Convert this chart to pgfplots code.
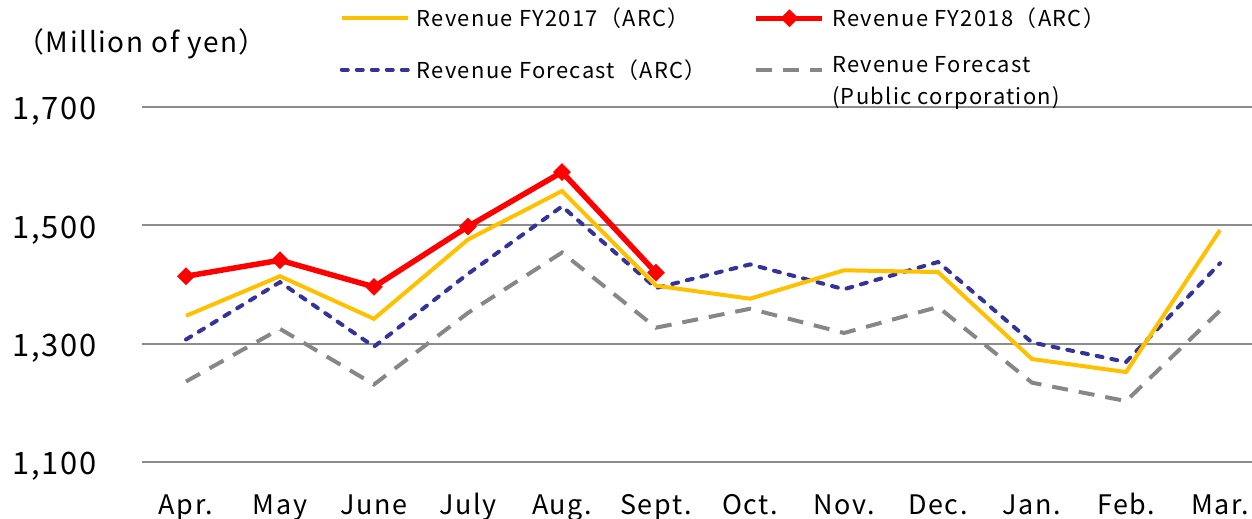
\documentclass[border=0pt]{standalone}
\usepackage{pgfplots}
\pgfplotsset{compat=1.18}
\usepackage{fontspec}
\setmainfont{Noto Sans CJK JP}[LetterSpace=6]
\definecolor{cYel}{HTML}{FFC000}
\definecolor{cRed}{HTML}{FF0000}
\definecolor{cNavy}{HTML}{333399}
\definecolor{cGray}{HTML}{878787}
\definecolor{cGrid}{HTML}{8C8C8C}
\begin{document}
\begin{tikzpicture}
\begin{axis}[name=ax,
  scale only axis, width=1110bp, height=355bp,
  xmin=-0.468, xmax=11.34, ymin=1100, ymax=1700,
  ytick={1100,1300,1500,1700},
  xtick={0,...,11},
  xticklabels={Apr.,May,June,July,Aug.,Sept.,Oct.,Nov.,Dec.,Jan.,Feb.,Mar.},
  axis line style={draw=none},
  major tick length=0pt,
  ymajorgrids, grid style={cGrid, line width=2bp},
  /pgf/number format/assume math mode=true,
  /pgf/number format/1000 sep={,},
  yticklabel style={font=\fontsize{31}{31}\selectfont, anchor=base east, inner sep=0pt, xshift=-45bp, yshift=-13bp},
  xticklabel style={font=\fontsize{27}{27}\selectfont, anchor=base, inner sep=0pt, yshift=-53bp},
  clip=false,
  legend columns=2,
  legend cell align=left,
  legend style={at={(axis description cs:0.178,1.279)}, anchor=north west, draw=none, fill=none,
    font=\fontsize{22}{32}\selectfont, inner sep=0pt, row sep=22bp,
    nodes={inner sep=0pt},
    /tikz/every odd column/.append style={column sep=7bp},
    /tikz/every even column/.append style={column sep=47bp}},
  legend image code/.code={\draw[mark repeat=2,mark phase=2,#1] plot coordinates {(0bp,0bp)(33bp,0bp)(66bp,0bp)};},
]
\addplot[forget plot, cGray, line width=4bp, dash pattern=on 16bp off 11bp] coordinates {
(0,1236) (1,1325) (2,1231) (3,1352) (4,1454) (5,1327) (6,1359) (7,1318) (8,1362) (9,1234) (10,1203) (11,1356)};
\addplot[forget plot, cNavy, line width=4bp, line cap=round, dash pattern=on 6bp off 9bp] coordinates {
(0,1307) (1,1404) (2,1295) (3,1418) (4,1532) (5,1394) (6,1434) (7,1392) (8,1438) (9,1302) (10,1269) (11,1436)};
\addplot[forget plot, cYel, line width=4bp] coordinates {
(0,1347) (1,1414) (2,1342) (3,1476) (4,1558) (5,1398) (6,1376) (7,1424) (8,1421) (9,1274) (10,1252) (11,1492)};
\addplot[forget plot, cRed, line width=5.5bp, mark=diamond*, mark size=8.5bp, mark options={solid, xscale=1.333, line width=0.5bp}] coordinates {
(0,1414) (1,1441) (2,1396) (3,1498) (4,1590) (5,1420)};
\addlegendimage{cYel, line width=4bp}
\addlegendentry{Revenue FY2017（ARC）}
\addlegendimage{cRed, line width=5.5bp, mark=diamond*, mark size=8.5bp, mark options={solid, xscale=1.333, line width=0.5bp}}
\addlegendentry{Revenue FY2018（ARC）}
\addlegendimage{cNavy, line width=4bp, line cap=round, dash pattern=on 6bp off 9bp}
\addlegendentry{Revenue Forecast（ARC）}
\addlegendimage{cGray, line width=4bp, dash pattern=on 16bp off 11bp}
\addlegendentry{\begin{tabular}{@{}l@{}}Revenue Forecast\\(Public corporation)\end{tabular}}
\end{axis}
\node[anchor=base west, inner sep=0pt, font=\fontsize{28}{28}\selectfont] at ([xshift=-126bp,yshift=54bp]ax.north west) {（Million of yen）};
\pgfresetboundingbox
\path ([xshift=-142bp,yshift=107bp]ax.north west) rectangle ([yshift=-57bp]ax.south east);
\end{tikzpicture}
\end{document}
